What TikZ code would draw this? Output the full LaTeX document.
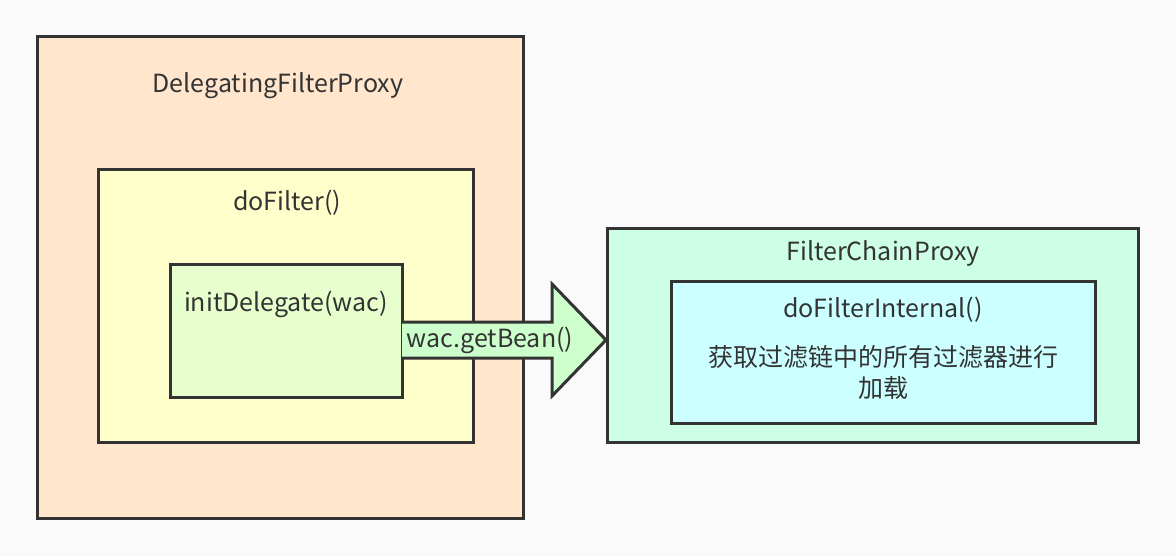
\documentclass[tikz,border=0pt]{standalone}
\usepackage{fontspec}
\setmainfont{Noto Sans CJK SC}
\begin{document}
\begin{tikzpicture}[x=1pt,y=-1pt,
  box/.style={draw=black!80,line width=3pt},
  lbl/.style={text=black!80,font=\fontsize{25}{30}\selectfont,inner sep=0pt,anchor=center}]
\definecolor{bg}{HTML}{FAFAFA}
\definecolor{peach}{HTML}{FFE6CC}
\definecolor{ylw}{HTML}{FFFFCC}
\definecolor{lgreen}{HTML}{E6FFCC}
\definecolor{agreen}{HTML}{CCFFCC}
\definecolor{mint}{HTML}{CCFFE6}
\definecolor{cyan1}{HTML}{CCFFFF}
\fill[bg] (0,0) rectangle (1176,556);
\useasboundingbox (0,0) rectangle (1176,556);
\draw[box,fill=peach] (37,37) rectangle (523,518);
\draw[box,fill=ylw] (98,170) rectangle (473,442);
\draw[box,fill=lgreen] (170,265) rectangle (402,397);
\draw[box,fill=mint] (607,229) rectangle (1138,442);
\draw[box,fill=cyan1] (671,282) rectangle (1095,423);
\draw[box,fill=agreen,line join=miter] (402,322) -- (552,322) -- (552,284) -- (606,340) -- (552,396) -- (552,358) -- (402,358);
\node[lbl] (t1) at (278,86) {DelegatingFilterProxy};
\node[lbl] (t2) at (287,203) {doFilter()};
\node[lbl] (t3) at (286,304) {initDelegate(wac)};
\node[lbl] (t4) at (490,340) {wac.getBean()};
\node[lbl] (t5) at (883,253) {FilterChainProxy};
\node[lbl] (t6) at (883,310) {doFilterInternal()};
\node[lbl] (t7) at (883,357) {获取过滤链中的所有过滤器进行};
\node[lbl] (t8) at (883,388) {加载};
\end{tikzpicture}
\end{document}
